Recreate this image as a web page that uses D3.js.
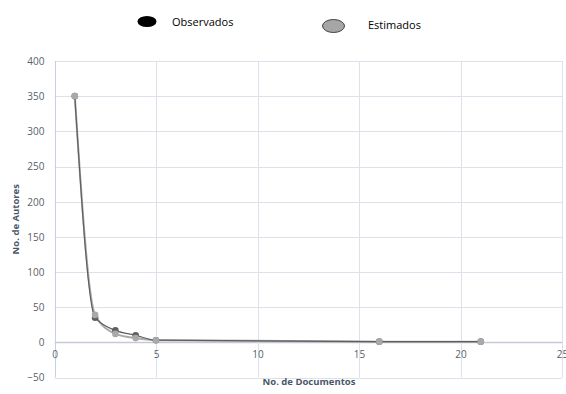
<!DOCTYPE html>
<html><head><meta charset="utf-8">
<script src="https://cdn.jsdelivr.net/npm/d3@7"></script>
<style>body{margin:0;background:#fff}svg{display:block}text{font-family:"Open Sans","Liberation Sans",sans-serif}</style>
</head><body><svg id="c" width="566" height="394"></svg>
<script>
const docs = [1, 2, 3, 4, 5, 16, 21];
const observados = [350, 35, 17, 10, 3, 1, 1];
const estimados = [350, 39, 12, 6, 3, 1, 1];
const xTicks = [0, 5, 10, 15, 20, 25];
const yTicks = [-50, 0, 50, 100, 150, 200, 250, 300, 350, 400];
const seriesNames = ["Observados", "Estimados"];

const svg = d3.select("#c");
const x = d3.scaleLinear().domain([0, 25]).range([54.5, 562]);
const y = d3.scaleLinear().domain([-50, 400]).range([377.5, 61]);

// gridlines
svg.append("g").selectAll("line").data(yTicks).join("line")
  .attr("x1", x(0)).attr("x2", x(25)).attr("y1", d => Math.round(y(d)) + 0.5).attr("y2", d => Math.round(y(d)) + 0.5)
  .attr("stroke", d => d === 0 ? "#c3cad6" : "#dde2ea").attr("stroke-width", d => d === 0 ? 1.6 : 1);
svg.append("g").selectAll("line").data(xTicks).join("line")
  .attr("y1", y(-50)).attr("y2", y(400)).attr("x1", d => Math.round(x(d)) + 0.5).attr("x2", d => Math.round(x(d)) + 0.5)
  .attr("stroke", d => d === 0 ? "#c9d0dc" : "#dde2ea");

// y tick labels
const yAxis = d3.axisLeft(y).tickValues(yTicks).tickSize(0).tickPadding(0);
const gy = svg.append("g").attr("transform", `translate(${x(0) - 10},0)`).call(yAxis);
gy.select(".domain").remove();
gy.selectAll("text").attr("fill", "#595f6b").style("font-size", "10px").attr("dy", "0.34em");

// x tick labels (below the zero line)
const xAxis = d3.axisBottom(x).tickValues(xTicks).tickSize(0).tickPadding(0);
const gx = svg.append("g").attr("transform", `translate(0,${y(0) + 9})`).call(xAxis);
gx.select(".domain").remove();
gx.selectAll("text").attr("fill", "#595f6b").style("font-size", "10px").attr("dy", "0.71em");

// axis titles
svg.append("text").attr("transform", `translate(19,${y(175)}) rotate(-90)`).attr("text-anchor", "middle")
  .attr("fill", "#4a5668").style("font-size", "9.5px").style("font-weight", "bold").text("No. de Autores");
svg.append("text").attr("x", 309).attr("y", 385).attr("text-anchor", "middle")
  .attr("fill", "#4a5668").style("font-size", "9.5px").style("font-weight", "bold").text("No. de Documentos");

const line = d3.line().x((d, i) => x(docs[i])).y(d => y(d)).curve(d3.curveMonotoneX);
const obs = docs.map((d, i) => observados[i]);
const est = docs.map((d, i) => estimados[i]);

svg.append("path").attr("d", line(est)).attr("fill", "none").attr("stroke", "#a9a9a9").attr("stroke-width", 2);
svg.append("path").attr("d", line(obs)).attr("fill", "none").attr("stroke", "#5f5f5f").attr("stroke-width", 1.2);

svg.append("g").selectAll("circle").data(obs).join("circle")
  .attr("cx", (d, i) => x(docs[i])).attr("cy", d => y(d)).attr("r", 3.3).attr("fill", "#5f5f5f");
svg.append("g").selectAll("circle").data(est).join("circle")
  .attr("cx", (d, i) => x(docs[i])).attr("cy", d => y(d)).attr("r", 3.3).attr("fill", "#a9a9a9");

// legend
const leg = svg.append("g");
leg.append("ellipse").attr("cx", 147).attr("cy", 21.5).attr("rx", 9.5).attr("ry", 5.5).attr("fill", "#000");
leg.append("text").attr("x", 172).attr("y", 26).attr("fill", "#000").style("font-size", "11px").text(seriesNames[0]);
leg.append("ellipse").attr("cx", 333.5).attr("cy", 26).attr("rx", 11).attr("ry", 6.5).attr("fill", "#a6a6a6").attr("stroke", "#404040").attr("stroke-width", 1);
leg.append("text").attr("x", 368).attr("y", 29).attr("fill", "#000").style("font-size", "11px").text(seriesNames[1]);
</script></body></html>
